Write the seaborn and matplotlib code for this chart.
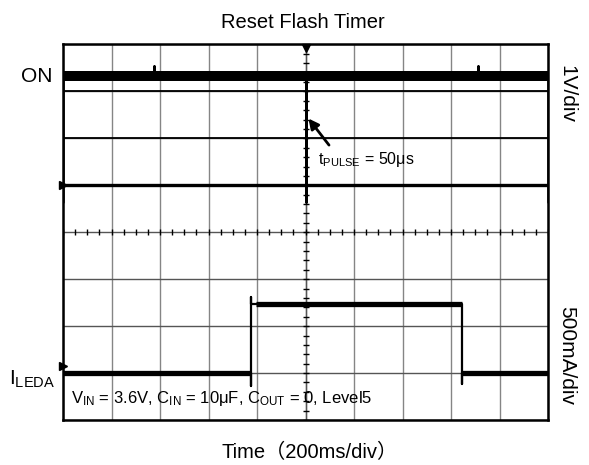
import numpy as np
import pandas as pd
import matplotlib
matplotlib.use('Agg')
import matplotlib.pyplot as plt
import seaborn as sns

# scope screen: 10 div x 8 div, time in ms (200ms/div), level in divisions
time_div_ms = 200
n_xdiv, n_ydiv = 10, 8

# ON channel (1V/div)
on_time_ms = [0, 0, 375, 375, 375, 1000, 1000, 1000, 1711, 1711, 1711, 2000, 2000]
on_div = [4.65, 7.33, 7.33, 7.55, 7.33, 7.33, 4.65, 7.33, 7.33, 7.55, 7.33, 7.33, 4.65]
on_high = 7.33
on_ground = 5.0
on_env = [7.0, 6.0]

# I_LEDA channel (500mA/div)
led_time_ms = [0, 774, 774, 774, 774, 1644, 1644, 1644, 2000]
led_div = [1.0, 1.0, 0.72, 2.62, 2.47, 2.47, 0.77, 1.0, 1.0]
led_low = 1.0
led_high = 2.47
led_on_ms, led_off_ms = 774, 1644
led_marker = 1.14

sns.set_style('white')
plt.rcParams['font.family'] = ['Liberation Sans', 'Noto Sans CJK SC', 'DejaVu Sans']
plt.rcParams['mathtext.fontset'] = 'custom'
plt.rcParams['mathtext.rm'] = 'Liberation Sans'
plt.rcParams['text.color'] = 'black'

W, H = 589, 465
fig = plt.figure(figsize=(W / 100, H / 100), dpi=100)
ax = fig.add_axes([63 / W, 45 / H, 485 / W, 375.5 / H])

xmax = time_div_ms * n_xdiv
ax.set_xlim(0, xmax)
ax.set_ylim(0, n_ydiv)

# grid
for gx in np.arange(0, xmax + 1, time_div_ms):
    ax.axvline(gx, color='#858585', lw=1.0, zorder=1)
for gy in range(n_ydiv + 1):
    ax.axhline(gy, color='#555555', lw=1.0, zorder=1)
for gy in on_env:
    ax.axhline(gy, color='black', lw=1.3, zorder=2)

# center cross small ticks
cx, cy = xmax / 2, n_ydiv / 2
tx = np.arange(0, xmax + 1, time_div_ms / 4)
ty = np.arange(0, n_ydiv + 0.01, 0.2)
ax.plot(tx, np.full_like(tx, cy), ls='none', marker='|', ms=4, mew=1, color='black', zorder=2)
ax.plot(np.full_like(ty, cx), ty, ls='none', marker='_', ms=4, mew=1, color='black', zorder=2)
ax.axvline(cx, color='#555555', lw=1.0, zorder=1)

# traces
sns.lineplot(x=on_time_ms, y=on_div, sort=False, estimator=None, color='black', lw=1.8, ax=ax, zorder=3)
ax.hlines(on_high, 0, xmax, color='black', lw=7.2, zorder=3)
ax.hlines(on_ground, 0, xmax, color='black', lw=2.4, zorder=3)

sns.lineplot(x=led_time_ms, y=led_div, sort=False, estimator=None, color='black', lw=1.6, ax=ax, zorder=3)
ax.hlines([led_low, led_low], [0, led_off_ms], [led_on_ms, xmax], color='black', lw=3.8, zorder=3)
ax.hlines(led_high, led_on_ms + 20, led_off_ms, color='black', lw=3.8, zorder=3)

# channel / trigger markers
ax.plot([0, 0], [on_ground, led_marker], ls='none', marker='>', ms=6, color='black', clip_on=False, zorder=4)
ax.plot([cx], [n_ydiv - 0.08], ls='none', marker='v', ms=6, color='black', clip_on=False, zorder=4)

for s in ax.spines.values():
    s.set_color('black')
    s.set_linewidth(1.8)
ax.set_xticks([])
ax.set_yticks([])

# annotations
ax.annotate('', xy=(1005, 6.47), xytext=(1104, 5.81),
            arrowprops=dict(arrowstyle='-|>', color='black', lw=2, mutation_scale=15))
ax.text(1052, 5.54, r'$\mathregular{t_{PULSE}}$ = 50μs', fontsize=11.5, ha='left', va='center')
ax.text(33, 0.45, r'$\mathregular{V_{IN}}$ = 3.6V, $\mathregular{C_{IN}}$ = 10μF, '
        r'$\mathregular{C_{OUT}}$ = 0, Level5', fontsize=12, ha='left', va='center')

fig.text(303 / W, 1 - 22 / H, 'Reset Flash Timer', fontsize=14.5, ha='center', va='center')
fig.text(310 / W, 1 - 452 / H, 'Time（200ms/div）', fontsize=14.5, ha='center', va='center')
fig.text(53 / W, 1 - 77 / H, 'ON', fontsize=15, ha='right', va='center')
fig.text(55 / W, 1 - 379 / H, r'$\mathregular{I_{LEDA}}$', fontsize=15, ha='right', va='center')
fig.text(567 / W, 1 - 94 / H, '1V/div', fontsize=15, rotation=270, ha='center', va='center')
fig.text(567 / W, 1 - 355 / H, '500mA/div', fontsize=15, rotation=270, ha='center', va='center')

fig.savefig('out.png', dpi=100)
